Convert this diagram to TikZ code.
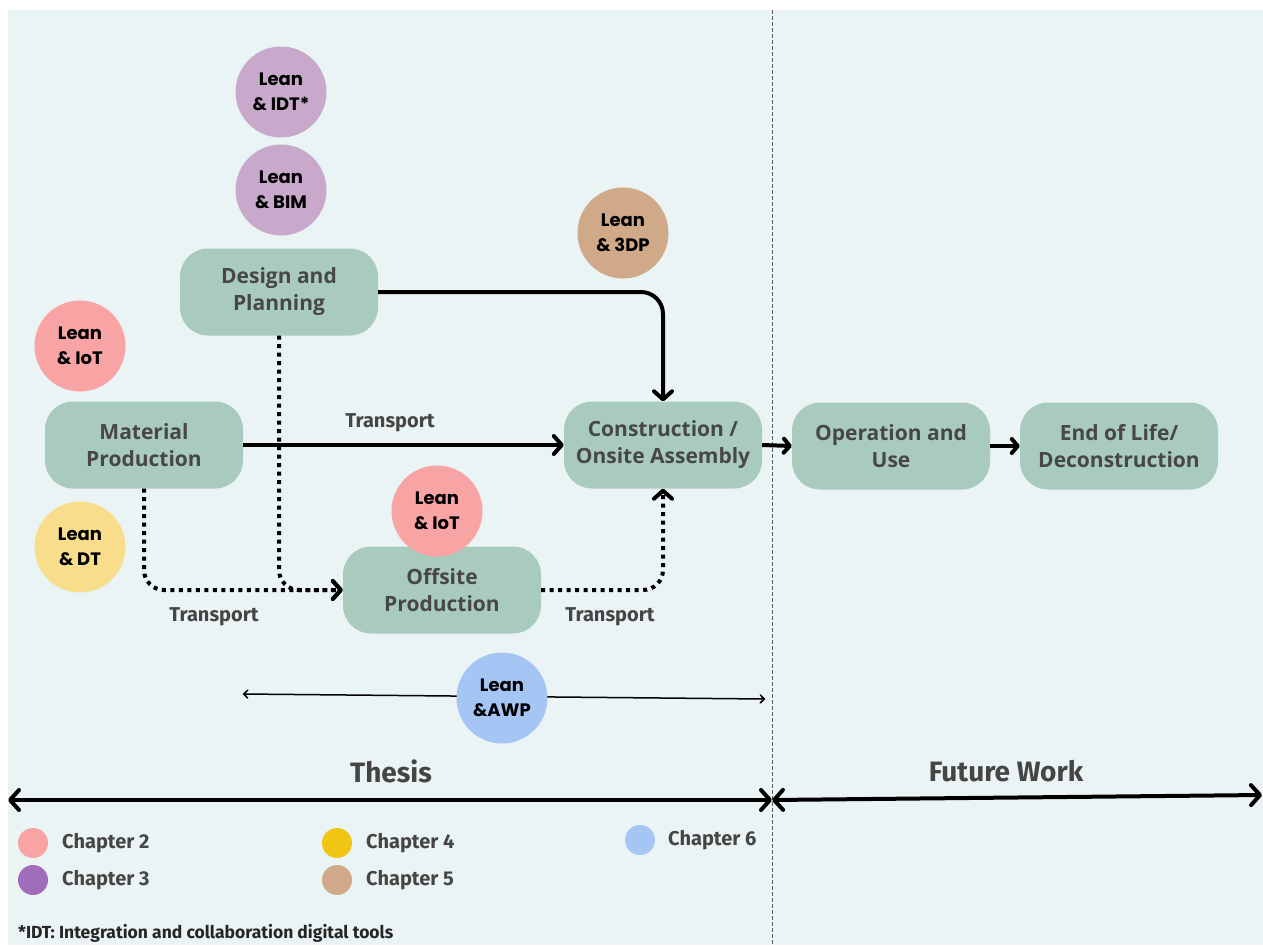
\documentclass[tikz,border=0pt]{standalone}
\usepackage{fontspec}
\usepackage{xcolor}
\usetikzlibrary{arrows.meta,positioning}

\newfontfamily\stagefont{Open Sans}
\newfontfamily\leanfont{Poppins}
\newfontfamily\labfont{Fira Sans}

\definecolor{panel}{HTML}{EAF4F4}
\definecolor{stagegreen}{HTML}{A9CBBD}
\definecolor{stagetext}{HTML}{474747}
\definecolor{labtext}{HTML}{454545}
\definecolor{leanpink}{HTML}{F8A3A4}
\definecolor{leanpurple}{HTML}{C9A9CB}
\definecolor{leanyellow}{HTML}{F8DD8C}
\definecolor{leantan}{HTML}{D0AA88}
\definecolor{leanblue}{HTML}{A5C5F5}
\definecolor{keypurple}{HTML}{A06DBB}
\definecolor{keyyellow}{HTML}{F0C514}

\tikzset{
  stage/.style={rectangle,rounded corners=28pt,fill=stagegreen,minimum width=198pt,
    minimum height=87pt,align=center,text=stagetext,
    font=\stagefont\bfseries\fontsize{21}{27}\selectfont},
  lean/.style={circle,minimum size=91pt,inner sep=0pt,align=center,
    font=\leanfont\bfseries\fontsize{18}{25}\selectfont},
  flowlabel/.style={text=labtext,font=\labfont\bfseries\fontsize{20}{24}\selectfont},
  scopelabel/.style={text=labtext,font=\labfont\bfseries\fontsize{28}{32}\selectfont},
  keydot/.style={circle,minimum size=30pt,inner sep=0pt},
  keytext/.style={anchor=west,inner sep=0pt,text=labtext,font=\labfont\bfseries\fontsize{20}{24}\selectfont},
  flow/.style={line width=4pt,-{Straight Barb[length=8pt,width=18pt,round]}},
  dotflow/.style={flow,dash pattern=on 4pt off 4.5pt,rounded corners=20pt},
  scope/.style={line width=4pt,{Straight Barb[length=9pt,width=20pt,round]}-{Straight Barb[length=9pt,width=20pt,round]}},
}

\begin{document}
\begin{tikzpicture}[x=1pt,y=-1pt]
% Canvas
\useasboundingbox[fill=white] (0,0) rectangle (1263,945);
\fill[panel] (8,10) rectangle (1263,945);
\draw[gray!70!black,line width=1pt,dash pattern=on 4pt off 2pt] (772,10) -- (772,945);

% Life cycle stages
\node[stage] (design) at (279,292) {Design and\\Planning};
\node[stage] (material) at (144,445) {Material\\Production};
\node[stage] (offsite) at (442,590) {Offsite\\Production};
\node[stage] (constr) at (663,445) {Construction /\\Onsite Assembly};
\node[stage] (operation) at (891,446) {Operation and\\Use};
\node[stage] (endlife) at (1119,446) {End of Life/\\Deconstruction};

% Flows
\draw[flow,rounded corners=22pt] (design.east) -- (constr.north |- design.east) -- (constr.north);
\draw[flow] (material.east) -- (constr.west);
\node[flowlabel] (tr1) at (390,423) {Transport};
\draw[dotflow] (material.south) |- (offsite.west);
\draw[dotflow] (design.south) |- (offsite.west);
\node[flowlabel] (tr2) at (214,617) {Transport};
\draw[dotflow] (offsite.east) -| (constr.south);
\node[flowlabel] (tr3) at (610,617) {Transport};
\draw[line width=4pt,-{Straight Barb[length=6pt,width=14pt,round]}] (constr.east) -- (operation.west);
\draw[line width=4pt,-{Straight Barb[length=6pt,width=14pt,round]}] (operation.east) -- (endlife.west);

% Lean pairings
\node[lean,fill=leanpurple] (idt) at (281,92) {Lean\\\& IDT*};
\node[lean,fill=leanpurple] (bim) at (281,190) {Lean\\\& BIM};
\node[lean,fill=leantan] (threedp) at (623,233) {Lean\\\& 3DP};
\node[lean,fill=leanpink] (iota) at (80,346) {Lean\\\& IoT};
\node[lean,fill=leanyellow] (dt) at (80,547) {Lean\\\& DT};
\node[lean,fill=leanpink] (iotb) at (437,511) {Lean\\\& IoT};

% AWP span
\coordinate (awpl) at (243,694);
\coordinate (awpr) at (765,699);
\draw[line width=1.5pt,{Straight Barb[length=4pt,width=8pt,round]}-{Straight Barb[length=4pt,width=8pt,round]}] (awpl) -- (awpr);
\node[lean,fill=leanblue] (awp) at (502,698) {Lean\\\&AWP};

% Scope
\coordinate (thl) at (8,800);
\coordinate (thr) at (772,800);
\coordinate (fwr) at (1262,795);
\draw[scope] (thl) -- (thr);
\draw[scope] (thr) -- (fwr);
\node[scopelabel] (thesis) at (391,771) {Thesis};
\node[scopelabel] (future) at (1006,771) {Future Work};

% Legend
\node[keydot,fill=leanpink] (k2) at (33,843) {};
\node[keytext] at (62,843) {Chapter 2};
\node[keydot,fill=keypurple] (k3) at (33,880) {};
\node[keytext] at (62,880) {Chapter 3};
\node[keydot,fill=keyyellow] (k4) at (337,843) {};
\node[keytext] at (366,843) {Chapter 4};
\node[keydot,fill=leantan] (k5) at (337,880) {};
\node[keytext] at (366,880) {Chapter 5};
\node[keydot,fill=leanblue] (k6) at (640,840) {};
\node[keytext] at (668,840) {Chapter 6};
\node[anchor=west,inner sep=0pt,text=black!85,font=\labfont\bfseries\fontsize{17.5}{20}\selectfont] (note) at (18,933) {*IDT: Integration and collaboration digital tools};
\end{tikzpicture}
\end{document}
